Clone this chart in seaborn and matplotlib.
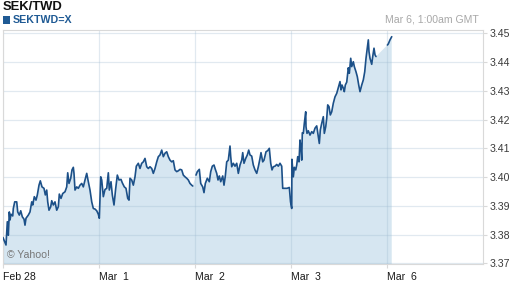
import matplotlib
matplotlib.use("Agg")
import matplotlib.pyplot as plt
from matplotlib.patches import Rectangle
import numpy as np
import pandas as pd
import seaborn as sns

# ---- data (hours since Feb 28 open, trading time; SEK/TWD rate) ----
feb28_hours = [0.0, 0.25, 0.75, 1.08, 1.33, 1.58, 1.75, 2.0, 2.43, 2.58, 2.93, 3.43, 3.68, 4.08, 4.43,
               4.83, 5.25, 5.5, 5.75, 6.33, 6.75, 7.18, 7.43, 7.83, 8.25, 8.58, 9.0, 9.33, 9.75, 10.25,
               10.58, 10.93, 11.18, 11.5, 11.93, 12.18, 12.58, 13.0, 13.43, 13.83, 14.08, 14.5, 14.93,
               15.5, 15.93, 16.18, 16.5, 16.93, 17.25, 17.58, 17.75, 18.0, 18.43, 18.83, 19.25, 19.68,
               20.08, 20.5, 20.93, 21.33, 21.75, 22.18, 22.58, 23.0, 23.43, 23.83, 24.08]
feb28_vals = [3.3790, 3.3781, 3.3764, 3.3845, 3.3798, 3.3879, 3.3851, 3.3871, 3.3865, 3.3891, 3.3914,
              3.3914, 3.3879, 3.3868, 3.3883, 3.3862, 3.3854, 3.3833, 3.3857, 3.3868, 3.3879, 3.3914,
              3.3903, 3.3932, 3.3920, 3.3938, 3.3972, 3.3987, 3.3966, 3.3961, 3.3938, 3.3955, 3.3914,
              3.3885, 3.3897, 3.3918, 3.3903, 3.3914, 3.3885, 3.3897, 3.3941, 3.3926, 3.3943, 3.3949,
              3.3966, 3.4015, 3.3978, 3.3996, 3.4025, 3.4034, 3.4013, 3.3955, 3.3966, 3.3961, 3.3972,
              3.3978, 3.3966, 3.3990, 3.4013, 3.3984, 3.3955, 3.3914, 3.3891, 3.3889, 3.3883, 3.3871,
              3.3857]

mar1_hours = [24.43, 24.68, 25.08, 25.5, 25.93, 26.33, 26.58, 27.0, 27.33, 27.75, 28.18, 28.58, 29.0,
              29.5, 29.83, 30.33, 30.75, 31.18, 31.5, 31.75, 32.18, 32.58, 33.0, 33.33, 33.83, 34.25,
              34.68, 35.08, 35.5, 35.93, 36.33, 36.75, 37.18, 37.58, 38.0, 38.43, 38.83, 39.25, 39.68,
              40.08, 40.5, 40.93, 41.33, 41.75, 42.18, 42.58, 43.0, 43.43, 43.83, 44.25, 44.68, 45.08,
              45.5, 45.93, 46.33, 46.75, 47.18, 47.43]
mar1_vals = [3.4001, 3.3990, 3.3932, 3.3957, 3.3961, 3.4015, 3.3955, 3.3984, 3.3938, 3.3903, 3.3961,
             3.4007, 3.3990, 3.3992, 3.3980, 3.3966, 3.3961, 3.3926, 3.3920, 3.3996, 3.3990, 3.3972,
             3.4001, 3.4038, 3.4048, 3.4030, 3.4048, 3.4053, 3.4065, 3.4036, 3.4030, 3.4036, 3.4030,
             3.4013, 3.4030, 3.4053, 3.4071, 3.4077, 3.4094, 3.4071, 3.4083, 3.4088, 3.4071, 3.4059,
             3.4053, 3.4057, 3.4025, 3.4019, 3.4022, 3.4027, 3.4025, 3.4007, 3.4001, 3.3996, 3.3990,
             3.3978, 3.3972, 3.3969]

mar2_hours = [48.25, 48.58, 49.08, 49.43, 49.93, 50.25, 50.58, 51.08, 51.58, 51.93, 52.33, 52.75, 53.08,
              53.43, 53.75, 54.08, 54.43, 54.93, 55.25, 55.58, 55.93, 56.33, 56.75, 56.93, 57.18, 57.58,
              58.0, 58.43, 58.83, 59.25, 59.68, 59.93, 60.25, 60.68, 61.08, 61.43, 61.75, 62.18, 62.58,
              63.0, 63.43, 63.83, 64.25, 64.5, 64.93, 65.25, 65.75, 66.18, 66.58, 66.93, 67.25, 67.58,
              68.0, 68.43, 68.83, 69.25, 69.68, 69.93, 71.0, 71.58, 71.88, 72.18]
mar2_vals = [3.4007, 3.4019, 3.4027, 3.3978, 3.3966, 3.3946, 3.3978, 3.3996, 3.3984, 3.4019, 3.4038,
             3.4042, 3.4027, 3.4013, 3.3990, 3.4004, 3.3984, 3.4004, 3.3972, 3.4004, 3.4053, 3.4059,
             3.4108, 3.4071, 3.4036, 3.4048, 3.4038, 3.4048, 3.4013, 3.4042, 3.4059, 3.4085, 3.4048,
             3.4065, 3.4077, 3.4094, 3.4077, 3.4073, 3.4042, 3.4025, 3.4013, 3.4036, 3.4065, 3.4085,
             3.4053, 3.4059, 3.4088, 3.4092, 3.4100, 3.4048, 3.4025, 3.4036, 3.4038, 3.4044, 3.4038,
             3.4048, 3.4038, 3.3961, 3.3961, 3.3964, 3.3914, 3.3891]

mar3_hours = [72.23, 72.58, 72.83, 73.18, 73.43, 73.68, 74.0, 74.25, 74.5, 74.68, 74.83, 75.08, 75.33,
              75.68, 75.75, 76.0, 76.33, 76.75, 77.18, 77.58, 78.0, 78.43, 78.83, 79.08, 79.33, 79.68,
              80.08, 80.33, 80.68, 80.93, 81.18, 81.5, 81.83, 82.18, 82.58, 83.0, 83.43, 83.83, 84.25,
              84.5, 84.75, 85.08, 85.33, 85.58, 85.93, 86.33, 86.58, 86.93, 87.18, 87.58, 87.83, 88.25,
              88.58, 88.93, 89.25, 89.68, 90.08, 90.43, 90.75, 91.08, 91.33, 91.5, 91.75, 92.18, 92.43,
              92.75, 93.0, 93.25]
mar3_vals = [3.4062, 3.4001, 3.4034, 3.4025, 3.4042, 3.4071, 3.4053, 3.4129, 3.4100, 3.4059, 3.4154,
             3.4152, 3.4187, 3.4227, 3.4175, 3.4152, 3.4161, 3.4146, 3.4158, 3.4152, 3.4170, 3.4178,
             3.4140, 3.4117, 3.4164, 3.4187, 3.4210, 3.4152, 3.4175, 3.4204, 3.4251, 3.4245, 3.4216,
             3.4227, 3.4257, 3.4279, 3.4291, 3.4311, 3.4332, 3.4303, 3.4320, 3.4309, 3.4297, 3.4320,
             3.4330, 3.4380, 3.4361, 3.4413, 3.4384, 3.4401, 3.4384, 3.4366, 3.4349, 3.4320, 3.4297,
             3.4320, 3.4338, 3.4366, 3.4413, 3.4448, 3.4477, 3.4436, 3.4413, 3.4392, 3.4419, 3.4448,
             3.4425, 3.4419]

mar6_hours = [96.1, 96.33, 96.75, 97.18]
mar6_vals = [3.4459, 3.4463, 3.4477, 3.4488]

tick_days = [0, 1, 2, 3, 4]
tick_labels = ["Feb 28", "Mar  1", "Mar  2", "Mar  3", "Mar  6"]
y_ticks = [3.37, 3.38, 3.39, 3.40, 3.41, 3.42, 3.43, 3.44, 3.45]

title = "SEK/TWD"
series_name = "SEKTWD=X"
stamp = "Mar 6, 1:00am GMT"
credit = "\u00a9 Yahoo!"

# ---- styling ----
LINE = "#1c5088"
FILL = "#d6e6f1"
GRID = "#9db8cf"
SPINE = "#d9d9d9"

sns.set_theme(style="white")
plt.rcParams["font.family"] = ["Liberation Sans", "DejaVu Sans"]

segments = [
    ("a", feb28_hours + mar1_hours, feb28_vals + mar1_vals),
    ("b", mar2_hours + mar3_hours, mar2_vals + mar3_vals),
    ("c", mar6_hours, mar6_vals),
]
df = pd.concat(
    [pd.DataFrame({"seg": s, "hours": h, "value": v}) for s, h, v in segments],
    ignore_index=True,
)
df["day"] = df["hours"] / 24.0

W, H = 512, 288
fig = plt.figure(figsize=(W / 100, H / 100), dpi=100)
ax = fig.add_axes([3 / W, 1 - 264 / H, 480 / W, (264 - 29.5) / H])

ax.fill_between(df["day"], df["value"], 3.30, color=FILL, lw=0, zorder=1)
sns.lineplot(data=df, x="day", y="value", units="seg", estimator=None, sort=False,
             color=LINE, lw=1.2, ax=ax, zorder=3, legend=False)

ax.set_xlim(0, 5)
ax.set_ylim(3.3698, 3.4513)
ax.set_xticks(tick_days)
ax.set_xticklabels(tick_labels, ha="left")
ax.set_yticks(y_ticks)
ax.set_yticklabels([f"{v:.2f}" for v in y_ticks])
ax.yaxis.tick_right()
ax.set_xlabel("")
ax.set_ylabel("")

ax.grid(True, color=GRID, alpha=0.3, lw=0.9)
ax.set_axisbelow("line")
for s in ax.spines.values():
    s.set_color(SPINE)
    s.set_linewidth(0.8)
    s.set_visible(True)

ax.tick_params(axis="x", bottom=True, length=3, width=0.8, color=SPINE, pad=3,
               labelsize=7.6, labelcolor="#1a1a1a")
ax.tick_params(axis="y", right=True, left=False, length=3, width=0.8, color=SPINE, pad=2,
               labelsize=7.6, labelcolor="#3a3a3a")

# header texts
fig.text(3 / W, 1 - 6.5 / H, title, ha="left", va="center", fontsize=9.4, fontweight="bold",
         color="#111111")
fig.patches.append(Rectangle((3 / W, 1 - 24 / H), 7 / W, 8 / H, transform=fig.transFigure,
                             color="#1f5a94", lw=0))
fig.text(13 / W, 1 - 20.3 / H, series_name, ha="left", va="center", fontsize=7.7,
         fontweight="bold", color="#1f5a94")
fig.text(479 / W, 1 - 20 / H, stamp, ha="right", va="center", fontsize=7.6, color="#a8a8a8")
fig.text(7 / W, 1 - 255 / H, credit, ha="left", va="center", fontsize=7.6, color="#777777")

fig.savefig("out.png", dpi=100)
